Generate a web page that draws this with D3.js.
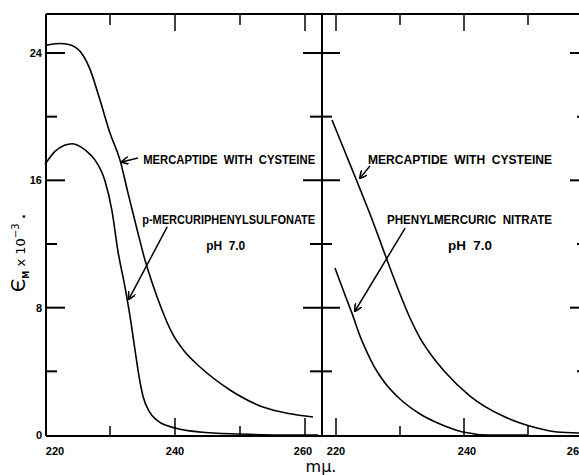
<!DOCTYPE html>
<html lang="en">
<head>
<meta charset="UTF-8">
<title>Mercaptide absorption spectra</title>
<script src="https://cdnjs.cloudflare.com/ajax/libs/d3/7.8.5/d3.min.js"></script>
<style>
    body { margin: 0; background: #fff; }
    svg { display: block; }
    .frame { stroke: #000; stroke-width: 2; fill: none; }
    .curve { stroke: #000; stroke-width: 1.6; fill: none; }
    .tick-lbl { font-family: "Liberation Sans", Arial, sans-serif; font-weight: bold; font-size: 11px; }
    .note { font-family: "Liberation Sans", Arial, sans-serif; font-weight: bold; font-size: 12.5px; }
</style>
</head>
<body>
<svg id="chart"></svg>
<script>
// ---- data (wavelength in m\u03bc, epsilon_M x 10^-3) ----
// left panel
const pmpsCysWl  = [220, 221, 222.3, 223.5, 224.7, 225.6, 226.9, 228.46, 230, 231.54, 232.77, 234.3, 235.38, 236.6, 238.0, 239.54, 241.54, 243.85, 248.46, 253.54, 257.5, 261.23];
const pmpsCysVal = [24.45, 24.55, 24.6, 24.55, 24.35, 24.0, 23.0, 21.04, 18.97, 17.27, 15.2, 12.69, 10.99, 9.42, 7.85, 6.41, 5.21, 4.27, 2.83, 1.76, 1.35, 1.13];
const pmpsWl  = [220, 221.5, 223, 224.2, 225.5, 227, 227.7, 229.2, 230.3, 231.2, 232.3, 233.1, 233.85, 234.5, 235.1, 236, 237.2, 240, 243.8, 250, 256, 262];
const pmpsVal = [17.0, 17.8, 18.2, 18.3, 18.1, 17.6, 17.27, 16.0, 14.1, 11.6, 9.3, 7.4, 5.34, 3.6, 2.4, 1.5, 0.94, 0.44, 0.19, 0.06, 0, 0];
// right panel
const pmnCysWl  = [219.38, 221.41, 223.44, 225.31, 226.88, 228.44, 230.0, 231.56, 233.13, 235.0, 237.03, 240.94, 246.09, 251.41, 254.53, 257.97];
const pmnCysVal = [19.79, 17.78, 15.77, 13.88, 12.19, 10.49, 8.86, 7.35, 6.09, 4.96, 3.96, 2.45, 1.19, 0.44, 0.19, 0.13];
const pmnWl  = [219.84, 221.41, 222.66, 223.75, 224.84, 226.09, 227.66, 230.0, 233.13, 236.25, 239.84, 244.06, 250];
const pmnVal = [10.49, 8.79, 7.47, 6.22, 5.21, 4.21, 3.27, 2.26, 1.32, 0.69, 0.19, 0, 0];

const yTicks = [0, 8, 16, 24];
const yMinor = [4, 12, 20];
const leftXTicks = [220, 230, 240, 250, 260];
const rightXTicks = [220, 230, 240, 250, 260];
const xLabels = ["220", "240", "260"];

// ---- layout ----
const width = 579, height = 475;
const frameTop = 14, frameBottom = 436;
const leftEdge = 46, divider = 322, rightEdge = 580;

const y = d3.scaleLinear().domain([0, 24]).range([435, 53]);
const xL = d3.scaleLinear().domain([220, 260]).range([45, 305]);
const xR = d3.scaleLinear().domain([220, 240]).range([336, 464]);

const svg = d3.select("#chart").attr("width", width).attr("height", height);

// frame
svg.append("line").attr("class", "frame").attr("x1", leftEdge).attr("x2", width).attr("y1", frameTop).attr("y2", frameTop);
svg.append("line").attr("class", "frame").attr("x1", leftEdge).attr("x2", width).attr("y1", frameBottom).attr("y2", frameBottom);
svg.append("line").attr("class", "frame").attr("x1", leftEdge).attr("x2", leftEdge).attr("y1", frameTop).attr("y2", frameBottom);
svg.append("line").attr("class", "frame").attr("x1", divider).attr("x2", divider).attr("y1", frameTop).attr("y2", frameBottom);

// y ticks: left axis, divider (both sides), right edge
const ticksG = svg.append("g").attr("stroke", "#000").attr("stroke-width", 2);
yTicks.filter(v => v > 0).forEach(v => {
    ticksG.append("line").attr("x1", leftEdge).attr("x2", leftEdge + 19).attr("y1", y(v)).attr("y2", y(v));
    ticksG.append("line").attr("x1", divider - 19).attr("x2", divider + 18).attr("y1", y(v)).attr("y2", y(v));
    ticksG.append("line").attr("x1", rightEdge - 10).attr("x2", rightEdge).attr("y1", y(v)).attr("y2", y(v));
});
yMinor.forEach(v => {
    ticksG.append("line").attr("x1", leftEdge).attr("x2", leftEdge + 11).attr("y1", y(v)).attr("y2", y(v));
    ticksG.append("line").attr("x1", divider - 12).attr("x2", divider + 10).attr("y1", y(v)).attr("y2", y(v));
    ticksG.append("line").attr("x1", rightEdge - 3).attr("x2", rightEdge).attr("y1", y(v)).attr("y2", y(v));
});

// x ticks (long on 20s, short on 10s), top and bottom
function xTick(x, w) {
    const long = w % 20 === 0;
    const lb = long ? 18 : 10, lt = long ? 17 : 11;
    ticksG.append("line").attr("stroke-width", 1.5).attr("x1", x).attr("x2", x).attr("y1", frameBottom).attr("y2", frameBottom - lb);
    ticksG.append("line").attr("stroke-width", 1.5).attr("x1", x).attr("x2", x).attr("y1", frameTop).attr("y2", frameTop + lt);
}
leftXTicks.filter(w => w > 220).forEach(w => xTick(xL(w), w));
rightXTicks.forEach(w => xTick(xR(w), w));

// tick labels
yTicks.forEach(v => {
    svg.append("text").attr("class", "tick-lbl")
        .attr("x", 42).attr("y", y(v) + 4)
        .attr("text-anchor", "end").attr("font-size", 10)
        .text(v);
});
const labelShift = { "L220": 10, "L260": -2, "R220": 0, "R240": 3, "R260": -16 };
xLabels.forEach(t => {
    const w = +t;
    svg.append("text").attr("class", "tick-lbl")
        .attr("x", xL(w) + (labelShift["L" + t] || 0)).attr("y", 455)
        .attr("text-anchor", "middle").text(t);
    svg.append("text").attr("class", "tick-lbl")
        .attr("x", xR(w) + (labelShift["R" + t] || 0)).attr("y", 455)
        .attr("text-anchor", "middle").text(t);
});

// axis titles
svg.append("text")
    .attr("x", 321).attr("y", 472)
    .attr("text-anchor", "middle")
    .attr("font-family", "DejaVu Sans, sans-serif").attr("font-size", 16)
    .text("m\u03bc.");

const yTitle = svg.append("text")
    .attr("transform", "translate(25,253) rotate(-90)")
    .attr("text-anchor", "middle")
    .attr("font-family", "DejaVu Sans, sans-serif").attr("font-size", 13);
yTitle.append("tspan").attr("font-size", 19).text("\u0404");
yTitle.append("tspan").attr("font-size", 8).attr("font-weight", "bold").attr("dy", 4).text("M");
yTitle.append("tspan").attr("dy", -4).text(" x 10");
yTitle.append("tspan").attr("font-size", 10).attr("dy", -6).text("\u22123");
yTitle.append("tspan").attr("font-weight", "bold").attr("dy", 6).text(" .");

// curves
const lineL = d3.line().x(d => xL(d[0])).y(d => y(d[1])).curve(d3.curveMonotoneX);
const lineR = d3.line().x(d => xR(d[0])).y(d => y(d[1])).curve(d3.curveMonotoneX);
const zip = (a, b) => a.map((w, i) => [w, b[i]]);

svg.append("path").attr("class", "curve").attr("d", lineL(zip(pmpsCysWl, pmpsCysVal)));
svg.append("path").attr("class", "curve").attr("d", lineL(zip(pmpsWl, pmpsVal)));
svg.append("path").attr("class", "curve").attr("d", lineR(zip(pmnCysWl, pmnCysVal)));
svg.append("path").attr("class", "curve").attr("d", lineR(zip(pmnWl, pmnVal)));

// annotations: [panel, tail wl, tail val, tip wl, tip val]
const arrows = [
    ["L", 234.3, 17.4, 231.8, 17.15],
    ["L", 238.8, 13.07, 232.9, 8.54],
    ["R", 225.3, 16.9, 223.75, 16.14],
    ["R", 230.8, 13.0, 222.97, 7.79]
];
// [panel, wl, val (baseline), text, width]
const notes = [
    ["L", 235.1, 17.05, "MERCAPTIDE  WITH  CYSTEINE", 172],
    ["L", 234.95, 13.25, "p-MERCURIPHENYLSULFONATE", 173],
    ["L", 244.8, 11.65, "pH  7.0", 39],
    ["R", 225.0, 17.05, "MERCAPTIDE  WITH  CYSTEINE", 184],
    ["R", 227.97, 13.25, "PHENYLMERCURIC  NITRATE", 165],
    ["R", 237.5, 11.65, "pH  7.0", 44]
];

svg.append("defs").append("marker")
    .attr("id", "head").attr("viewBox", "0 0 10 10")
    .attr("refX", 9).attr("refY", 5)
    .attr("markerWidth", 8).attr("markerHeight", 8)
    .attr("markerUnits", "userSpaceOnUse")
    .attr("orient", "auto")
    .append("path").attr("d", "M0,0 L10,5 L0,10")
    .attr("fill", "none").attr("stroke", "#000").attr("stroke-width", 2);

arrows.forEach(a => {
    const sx = a[0] === "L" ? xL : xR;
    svg.append("line")
        .attr("x1", sx(a[1])).attr("y1", y(a[2]))
        .attr("x2", sx(a[3])).attr("y2", y(a[4]))
        .attr("stroke", "#000").attr("stroke-width", 1.5)
        .attr("marker-end", "url(#head)");
});

notes.forEach(n => {
    const sx = n[0] === "L" ? xL : xR;
    svg.append("text").attr("class", "note")
        .attr("x", sx(n[1])).attr("y", y(n[2]))
        .attr("textLength", n[4]).attr("lengthAdjust", "spacingAndGlyphs")
        .style("white-space", "pre")
        .text(n[3]);
});
</script>
</body>
</html>
